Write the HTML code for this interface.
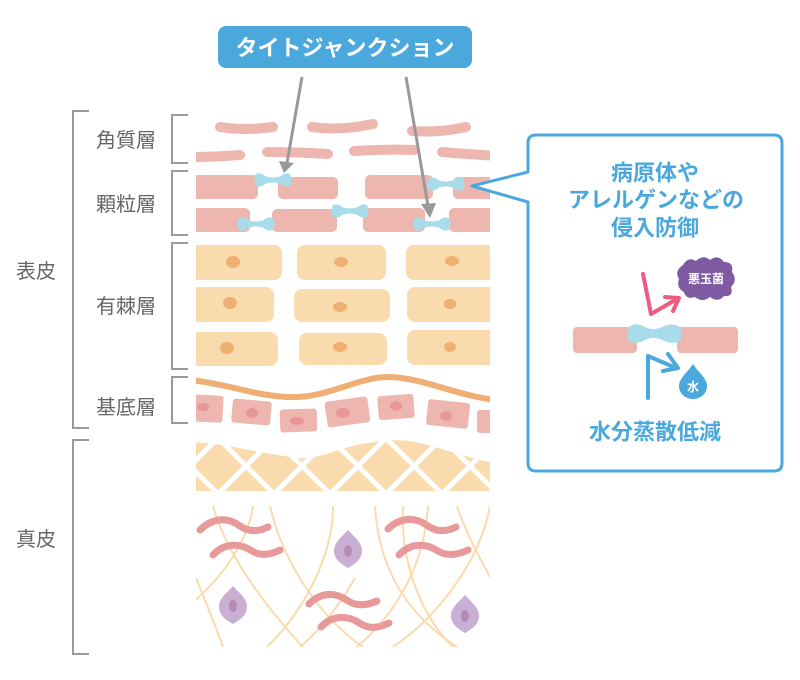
<!DOCTYPE html>
<html><head><meta charset="utf-8"><style>
html,body{margin:0;padding:0;background:#fff;}
svg{display:block;}
text{font-family:"Liberation Sans","Noto Sans CJK JP",sans-serif;}
</style></head><body>
<svg width="800" height="680" viewBox="0 0 800 680" xmlns="http://www.w3.org/2000/svg">
<defs>
  <clipPath id="tissue"><rect x="196" y="100" width="294" height="560"/></clipPath>
  <clipPath id="lat"><path d="M196 442 C 225 444, 255 452, 297 458 C 320 460, 340 447, 367 443 C 385 440, 400 439, 415 442 C 440 447, 460 456, 490 462 V 491 H 196 Z"/></clipPath>
  <clipPath id="derm"><rect x="196" y="506" width="294" height="141"/></clipPath>
  <path id="db" d="M-17 -6 Q -12 -8, -8 -4 Q 0 -1, 8 -4 Q 12 -8, 17 -6 Q 20 0, 17 6 Q 12 8, 8 4 Q 0 1, -8 4 Q -12 8, -17 6 Q -20 0, -17 -6 Z" fill="#a8dcea"/>
  <path id="fb" d="M0 -19 C 6 -12, 14 -7, 14 2 C 14 10, 7 15, 0 19 C -7 15, -14 10, -14 2 C -14 -7, -6 -12, 0 -19 Z" fill="#c8afd3"/>
</defs>

<!-- Title -->
<rect x="218" y="26" width="254" height="42" rx="8" fill="#4aa8dc"/>
<text x="345" y="48" text-anchor="middle" dominant-baseline="central" fill="#fff" font-size="22" font-weight="bold">タイトジャンクション</text>

<!-- Brackets -->
<g stroke="#9a9a9a" stroke-width="2" fill="none">
  <path d="M89 111 H73 V428 H89"/>
  <path d="M89 440 H73 V654 H89"/>
  <path d="M188 115 H172 V163 H188"/>
  <path d="M188 171 H172 V235 H188"/>
  <path d="M188 243 H172 V369 H188"/>
  <path d="M188 377 H172 V423 H188"/>
</g>
<g fill="#666" font-size="20" text-anchor="middle" dominant-baseline="central">
  <text x="126" y="141">角質層</text>
  <text x="126" y="205">顆粒層</text>
  <text x="126" y="307">有棘層</text>
  <text x="126" y="408">基底層</text>
  <text x="36" y="272">表皮</text>
  <text x="36" y="540">真皮</text>
</g>

<g clip-path="url(#tissue)">
  <!-- stratum corneum -->
  <g stroke="#edb7b0" stroke-width="10" stroke-linecap="round" fill="none">
    <path d="M220 127 Q 246 131, 273 127"/>
    <path d="M312 127 Q 340 131, 373 124"/>
    <path d="M412 131 Q 440 133, 466 127"/>
    <path d="M188 157 Q 215 157, 240 155"/>
    <path d="M267 152 Q 300 152, 328 154"/>
    <path d="M354 151 Q 385 149, 414 150"/>
    <path d="M442 152 Q 465 154, 498 156"/>
  </g>
  <!-- granular -->
  <g fill="#edb7b0">
    <rect x="188" y="175" width="70" height="24" rx="5"/>
    <rect x="278" y="177" width="60" height="22" rx="5"/>
    <rect x="365" y="175" width="68" height="24" rx="5"/>
    <rect x="453" y="177" width="50" height="22" rx="5"/>
    <rect x="188" y="208" width="62" height="24" rx="5"/>
    <rect x="272" y="209" width="65" height="23" rx="5"/>
    <rect x="363" y="208" width="62" height="24" rx="5"/>
    <rect x="449" y="208" width="50" height="24" rx="5"/>
  </g>
  <use href="#db" x="273" y="180"/>
  <use href="#db" x="446" y="184"/>
  <use href="#db" x="256" y="224"/>
  <use href="#db" x="350" y="211"/>
  <use href="#db" x="432" y="224"/>

  <!-- spinous -->
  <g fill="#f9dbad">
    <rect x="188" y="245" width="94" height="35" rx="8"/>
    <rect x="297" y="245" width="89" height="35" rx="8"/>
    <rect x="406" y="245" width="94" height="35" rx="8"/>
    <rect x="188" y="287" width="86" height="35" rx="8"/>
    <rect x="294" y="289" width="96" height="33" rx="8"/>
    <rect x="407" y="287" width="94" height="35" rx="8"/>
    <rect x="188" y="332" width="90" height="34" rx="8"/>
    <rect x="299" y="333" width="88" height="32" rx="8"/>
    <rect x="407" y="330" width="94" height="35" rx="8"/>
  </g>
  <g fill="#efb074">
    <ellipse cx="233" cy="262" rx="7" ry="6"/>
    <ellipse cx="341" cy="262" rx="7" ry="5"/>
    <ellipse cx="452" cy="261" rx="7" ry="5"/>
    <ellipse cx="230" cy="303" rx="7" ry="6"/>
    <ellipse cx="340" cy="307" rx="7" ry="5"/>
    <ellipse cx="450" cy="304" rx="6" ry="5"/>
    <ellipse cx="227" cy="348" rx="7" ry="6"/>
    <ellipse cx="340" cy="347" rx="7" ry="5"/>
    <ellipse cx="450" cy="347" rx="6" ry="5"/>
  </g>

  <!-- basement membrane -->
  <path d="M190 380 C 230 384, 260 398, 297 397 C 330 396, 360 377, 388 377 C 420 377, 455 395, 495 400" stroke="#eeae74" stroke-width="6" fill="none"/>

  <!-- basal cells -->
  <g fill="#edb7b0">
    <rect x="190" y="395" width="33" height="27" rx="3" transform="rotate(3 207 408)"/>
    <rect x="232" y="400" width="39" height="24" rx="3" transform="rotate(5 251 412)"/>
    <rect x="280" y="409" width="37" height="23" rx="3" transform="rotate(-2 298 421)"/>
    <rect x="326" y="399" width="43" height="26" rx="3" transform="rotate(-8 347 412)"/>
    <rect x="378" y="395" width="36" height="24" rx="3" transform="rotate(-4 396 407)"/>
    <rect x="427" y="401" width="42" height="26" rx="3" transform="rotate(6 448 414)"/>
    <rect x="477" y="410" width="20" height="23" rx="3"/>
  </g>
  <g fill="#e8969a">
    <ellipse cx="203" cy="407" rx="6" ry="4"/>
    <ellipse cx="252" cy="413" rx="6" ry="5"/>
    <ellipse cx="297" cy="421" rx="7" ry="4"/>
    <ellipse cx="343" cy="413" rx="7" ry="5"/>
    <ellipse cx="396" cy="406" rx="6" ry="5"/>
    <ellipse cx="446" cy="416" rx="6" ry="5"/>
  </g>

  <!-- upper dermis lattice -->
  <g clip-path="url(#lat)">
    <rect x="190" y="430" width="310" height="70" fill="#f9dbad"/>
    <g stroke="#fff" stroke-width="5" transform="translate(5 -4)">
      <line x1="145" y1="430" x2="215" y2="500"/>
      <line x1="201" y1="430" x2="271" y2="500"/>
      <line x1="257" y1="430" x2="327" y2="500"/>
      <line x1="313" y1="430" x2="383" y2="500"/>
      <line x1="369" y1="430" x2="439" y2="500"/>
      <line x1="425" y1="430" x2="495" y2="500"/>
      <line x1="481" y1="430" x2="551" y2="500"/>
      <line x1="225" y1="430" x2="155" y2="500"/>
      <line x1="281" y1="430" x2="211" y2="500"/>
      <line x1="337" y1="430" x2="267" y2="500"/>
      <line x1="393" y1="430" x2="323" y2="500"/>
      <line x1="449" y1="430" x2="379" y2="500"/>
      <line x1="505" y1="430" x2="435" y2="500"/>
      <line x1="561" y1="430" x2="491" y2="500"/>
    </g>
  </g>

  <!-- lower dermis fibers -->
  <g clip-path="url(#derm)" stroke="#f9dbad" stroke-width="2" fill="none">
    <path d="M213 506 C 222 540, 250 590, 303 647"/>
    <path d="M253 506 C 248 540, 225 575, 190 605"/>
    <path d="M270 506 C 280 550, 310 610, 363 647"/>
    <path d="M333 506 C 333 560, 300 615, 267 647"/>
    <path d="M355 578 C 340 605, 320 630, 300 647"/>
    <path d="M375 506 C 378 560, 400 610, 457 647"/>
    <path d="M403 506 C 400 560, 420 615, 453 647"/>
    <path d="M428 506 C 425 560, 400 610, 357 647"/>
    <path d="M457 506 C 465 530, 480 560, 492 580"/>
    <path d="M490 506 C 480 560, 440 615, 393 647"/>
    <path d="M196 578 C 205 600, 215 625, 223 647"/>
  </g>
  <g stroke="#e8999a" stroke-width="7" stroke-linecap="round" fill="none">
    <path d="M200 530 C 210 520, 225 515, 240 526 C 250 533, 260 531, 268 527"/>
    <path d="M213 555 C 222 545, 237 541, 252 551 C 262 557, 272 554, 280 550"/>
    <path d="M388 529 C 398 519, 413 515, 428 526 C 438 533, 448 531, 456 527"/>
    <path d="M399 555 C 408 545, 423 541, 438 551 C 448 557, 460 554, 468 550"/>
    <path d="M309 604 C 319 594, 333 590, 348 601 C 358 607, 368 605, 377 601"/>
    <path d="M321 627 C 330 617, 345 613, 361 624 C 371 630, 381 627, 389 623"/>
  </g>
  <use href="#fb" x="348" y="549"/>
  <use href="#fb" x="233" y="605"/>
  <use href="#fb" x="465" y="614"/>
  <g fill="#b68ab4">
    <ellipse cx="348" cy="551" rx="4" ry="6"/>
    <ellipse cx="233" cy="606" rx="4" ry="6"/>
    <ellipse cx="465" cy="616" rx="4" ry="6"/>
  </g>
</g>

<!-- gray arrows -->
<g stroke="#999" stroke-width="3" fill="none">
  <line x1="302" y1="77" x2="287" y2="163"/>
  <line x1="406" y1="77" x2="428" y2="206"/>
</g>
<polygon points="279,161 294,163 284,173" fill="#999"/>
<polygon points="421,204 436,203 430,218" fill="#999"/>

<!-- callout -->
<path d="M536 135 H774 Q782 135 782 143 V463 Q782 471 774 471 H536 Q528 471 528 463 V202 L472 186 L528 172 V143 Q528 135 536 135 Z" fill="#fff" stroke="#4aa8dc" stroke-width="3" stroke-linejoin="round"/>
<g fill="#4aa8dc" font-size="22" font-weight="bold" text-anchor="middle" dominant-baseline="central">
  <text x="655" y="173">病原体や</text>
  <text x="656" y="200">アレルゲンなどの</text>
  <text x="655" y="228">侵入防御</text>
  <text x="655" y="432">水分蒸散低減</text>
</g>
<g fill="#edb7b0">
  <rect x="573" y="327" width="64" height="26" rx="4"/>
  <rect x="677" y="327" width="61" height="26" rx="4"/>
</g>
<path d="M630 326 Q 637 322, 645 327 Q 653 331, 662 327 Q 672 322, 680 327 Q 684 334, 680 341 Q 672 345, 662 340 Q 653 336, 645 340 Q 637 345, 629 341 Q 625 334, 630 326 Z" fill="#a8dcea"/>
<!-- pink arrow -->
<g stroke="#ee5a80" stroke-width="4" fill="none" stroke-linecap="round" stroke-linejoin="round">
  <path d="M643 274 L651 314 L677 299"/>
  <path d="M665 297 L679 298 L673 311"/>
</g>
<!-- bacteria blob -->
<path d="M683 265 Q 688 256, 696 261 Q 703 254, 710 260 Q 718 254, 724 262 Q 734 262, 732 272 Q 738 280, 731 287 Q 734 297, 724 296 Q 718 303, 710 297 Q 702 303, 695 297 Q 686 300, 684 292 Q 676 288, 679 279 Q 674 271, 683 265 Z" fill="#7d5aa2"/>
<text x="706" y="279" text-anchor="middle" dominant-baseline="central" fill="#fff" font-size="12" font-weight="bold">悪玉菌</text>
<!-- blue arrow -->
<g stroke="#4aa8dc" stroke-width="4" fill="none" stroke-linecap="round" stroke-linejoin="round">
  <path d="M648 398 L648 356 L676 368"/>
  <path d="M668 354 L678 368 L663 371"/>
</g>
<!-- water drop -->
<path d="M693 364 C 698 372, 707 378, 707 386 C 707 394, 700 399, 693 399 C 686 399, 679 394, 679 386 C 679 378, 688 372, 693 364 Z" fill="#4aa8dc"/>
<text x="693" y="387" text-anchor="middle" dominant-baseline="central" fill="#fff" font-size="12" font-weight="bold">水</text>
</svg>
</body></html>
